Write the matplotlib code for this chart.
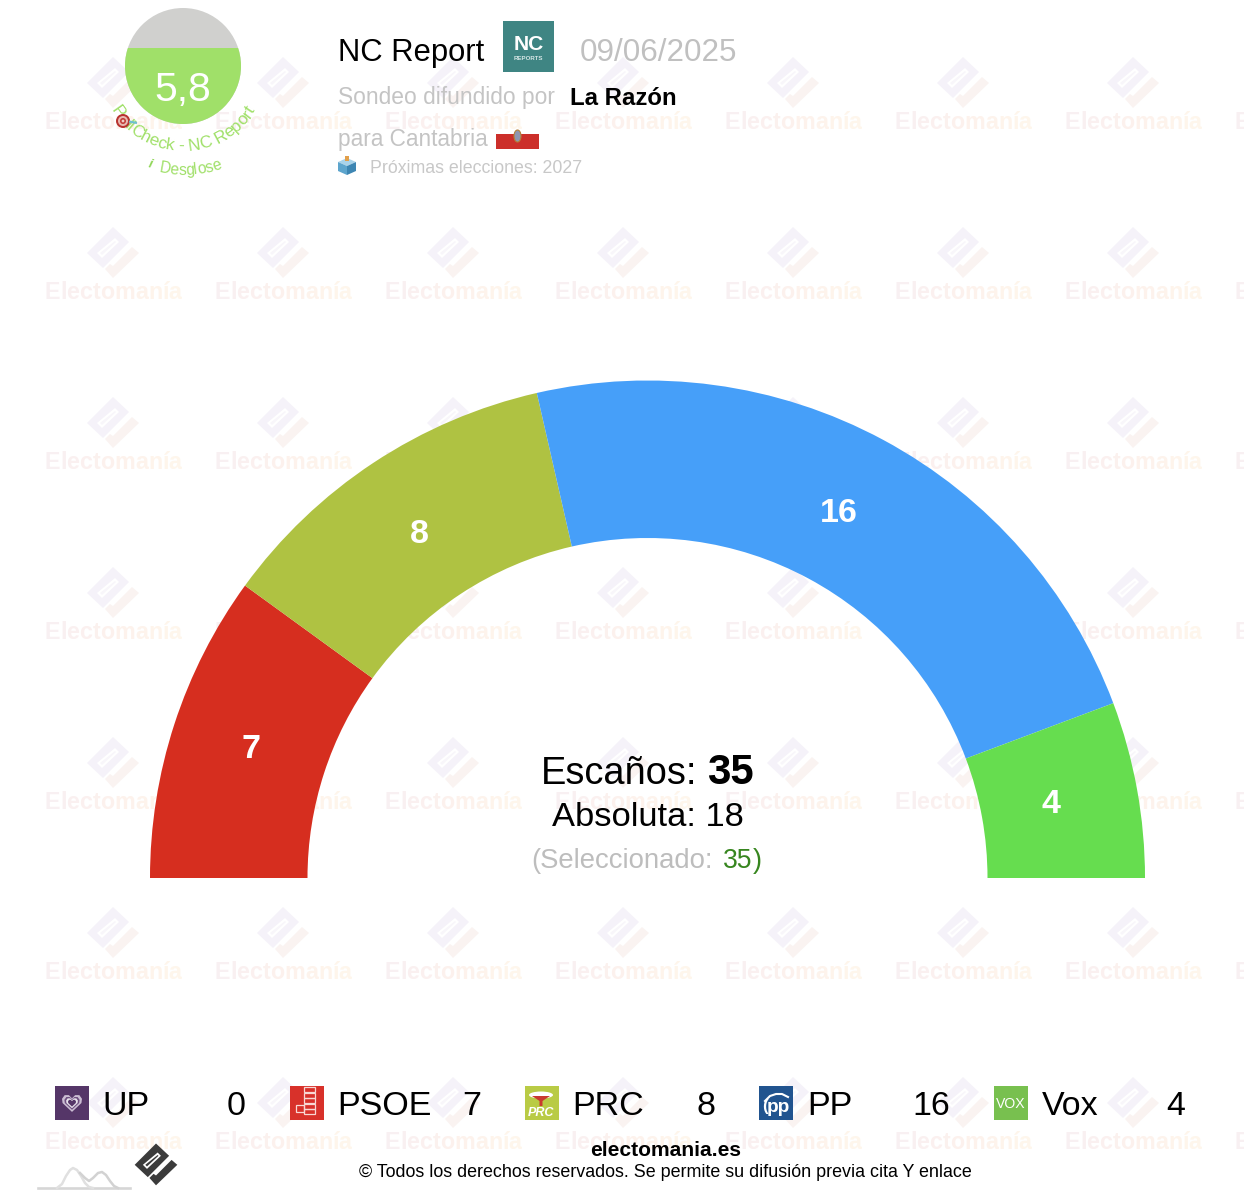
import numpy as np
import matplotlib
matplotlib.use("Agg")
import matplotlib.pyplot as plt
from matplotlib.patches import Wedge, Circle, Rectangle, Polygon, Ellipse
from matplotlib.textpath import TextPath
from matplotlib.font_manager import FontProperties

# data
parties = ["UP", "PSOE", "PRC", "PP", "Vox"]
seats = [0, 7, 8, 16, 4]
party_colors = ["#5a3a6e", "#d62e1f", "#afc242", "#469ff9", "#66dd4f"]
icon_colors = ["#553668", "#d8312a", "#b9cb45", "#21548f", "#78c04f"]
total_seats = 35
majority = 18
selected = 35
pollcheck_score = "5,8"
pollster = "NC Report"
poll_date = "09/06/2025"
media = "La Razón"
region = "para Cantabria"
next_vote = "Próximas elecciones: 2027"

# small nudges of the seat labels, in pixels
label_dx = [0, 1, 2, -7, -8]
label_dy = [0, 1, 5, 4, 1]

plt.rcParams["font.family"] = ["Liberation Sans", "DejaVu Sans"]

W, H = 1244, 1200
fig = plt.figure(figsize=(W / 100, H / 100), dpi=100)
ax = fig.add_axes([0, 0, 1, 1])
ax.set_xlim(0, W)
ax.set_ylim(0, H)
ax.axis("off")


def Y(y):
    return H - y


def fs(px):
    return px * 0.72


def put(x, y, s, px, color="black", weight="normal", ha="left", va="baseline", z=5, rot=0):
    return ax.text(x, Y(y), s, fontsize=fs(px), color=color, fontweight=weight, ha=ha, va=va, zorder=z,
                   rotation=rot, rotation_mode="anchor")


def poly(points, x0, y0, color, z=1, k=1.0):
    pts = [(x0 + p[0] * k, Y(y0 + p[1] * k)) for p in points]
    ax.add_patch(Polygon(pts, closed=True, facecolor=color, edgecolor="none", zorder=z))


def logo(x0, y0, body, slot, check, inner=None, z=1, k=1.0):
    poly([(0, -25), (16, -10), (-10, 16), (-26, 1)], x0, y0, body, z, k)
    poly([(-16, 1), (2, -14), (6, -10), (-11, 6)], x0, y0, slot, z, k)
    if inner:
        poly([(-13, 1), (2, -11), (3, -10), (-11, 3)], x0, y0, inner, z, k)
    poly([(-8, 17), (0, 26), (26, 1), (19, -5), (0, 14), (-3, 12)], x0, y0, check, z, k)


# watermark tiles, letters fade from pink to cream
wm_word = "Electomanía"
wm_colors = ["#f8f0f2", "#f9f0f1", "#faf0f0", "#fbf0ef", "#fbf1ee", "#fcf1ed",
             "#fdf2ec", "#fdf3ec", "#fef4eb", "#fef5eb", "#fef6ec"]
wm_font = FontProperties(family="Liberation Sans", weight="bold")
wm_px = 23.3
bar = TextPath((0, 0), "|", size=wm_px, prop=wm_font).get_extents().x1
wm_adv = [0.0]
for i in range(1, len(wm_word)):
    wm_adv.append(TextPath((0, 0), wm_word[:i] + "|", size=wm_px, prop=wm_font).get_extents().x1 - bar)

for cy in range(82, 1200, 170):
    for cx in range(113, 1320, 170):
        logo(cx, cy, "#f5f2f9", "#ffffff", "#faf3f1", "#f8f6fa")
        for i, ch in enumerate(wm_word):
            lx = cx - 68.5 + wm_adv[i]
            if lx >= W - 2:
                break
            ax.text(lx, Y(cy + 47), ch, fontsize=fs(wm_px), color=wm_colors[i], fontweight="bold",
                    ha="left", va="baseline", zorder=1)

# main hemicycle
cx0, cy0 = 647.5, 878
r_out, r_in = 497.5, 340
angle = 180.0
for i, (name, n, col) in enumerate(zip(parties, seats, party_colors)):
    if n == 0:
        continue
    span = 180.0 * n / total_seats
    ax.add_patch(Wedge((cx0, Y(cy0)), r_out, angle - span, angle, width=r_out - r_in, facecolor=col,
                       edgecolor="none", zorder=3))
    mid = np.radians(angle - span / 2)
    ax.text(cx0 + 418 * np.cos(mid) + label_dx[i], Y(cy0) + 418 * np.sin(mid) - label_dy[i], str(n), color="white",
            fontsize=fs(34), fontweight="bold", ha="center", va="center", zorder=4)
    angle -= span

# centre texts
put(541, 784, "Escaños:", 38)
put(707, 784, str(total_seats), 42, weight="bold")
put(648, 826, "Absoluta: " + str(majority), 34.5, ha="center")
put(531, 868, "(Seleccionado:", 27.5, color="#bdbdbd")
put(723, 868, str(selected), 26.5, color="#37861f")
put(753, 868, ")", 27.5, color="#37861f")

# header
put(338, 61, pollster, 31)
ax.add_patch(Rectangle((503, Y(72)), 51, 51, facecolor="#3f8583", edgecolor="none", zorder=4))
put(528.5, 50, "NC", 21, color="white", weight="bold", ha="center")
put(528.5, 60.5, "REPORTS", 6.2, color="#d5e6e5", weight="bold", ha="center")
put(580, 61, poll_date, 31.4, color="#c0c0c0")
put(338, 104, "Sondeo difundido por", 22.7, color="#c4c4c4")
put(570, 105, media, 24, weight="bold")
put(338, 146, region, 22.6, color="#c4c4c4")
ax.add_patch(Rectangle((496, Y(149)), 43, 15, facecolor="#cc2f2a", edgecolor="none", zorder=4))
ax.add_patch(Ellipse((517.5, Y(136)), 7, 12, facecolor="#8f96b0", edgecolor="#b5803a", linewidth=0.8, zorder=5))
put(370, 173, next_vote, 17.7, color="#c8c8c8")
# ballot box icon
poly([(-9, -4), (0, -8), (9, -4), (0, 0)], 347, 166, "#a9d3ea", 4)
poly([(-9, -4), (0, 0), (0, 9), (-9, 5)], 347, 166, "#5da5cd", 4)
poly([(9, -4), (0, 0), (0, 9), (9, 5)], 347, 166, "#3d86b3", 4)
poly([(-2, -5), (-2, -10), (2, -10), (2, -5)], 347, 166, "#e2a04b", 4)

# pollcheck gauge
gx, gy, gr = 183, 66, 58
gauge = Circle((gx, Y(gy)), gr, transform=ax.transData, facecolor="#d0d0ce", edgecolor="none", zorder=4)
ax.add_patch(gauge)
fill = Rectangle((gx - gr, Y(gy + gr)), 2 * gr, 76, facecolor="#a0e069", edgecolor="none", zorder=4)
ax.add_patch(fill)
fill.set_clip_path(gauge)
put(183, 101, pollcheck_score, 41, color="white", ha="center")


def curved(s, radius, centre_deg, px, color, font):
    # text set along the lower arc of the gauge, letter tops pointing to the middle
    widths = []
    for ch in s:
        if ch == " ":
            widths.append(px * 0.278)
        else:
            widths.append(TextPath((0, 0), "|" + ch + "|", size=px, prop=font).get_extents().width -
                          TextPath((0, 0), "||", size=px, prop=font).get_extents().width)
    pos = -sum(widths) / 2
    for ch, w in zip(s, widths):
        a = np.radians(centre_deg) + (pos + w / 2) / radius
        x = gx + radius * np.sin(a)
        y = gy + radius * np.cos(a)
        ax.text(x, Y(y), ch, fontsize=fs(px), color=color, ha="center", va="baseline", rotation=np.degrees(a),
                rotation_mode="anchor", zorder=5)
        pos += w


arc_font = FontProperties(family="Liberation Sans")
curved("PollCheck - NC Report", 85, 0, 17.2, "#a0e069", arc_font)
curved("Desglose", 109, 4, 15.5, "#a0e069", arc_font)
ax.text(150, Y(168), "i", fontsize=fs(13), color="#8fd656", fontweight="bold", style="italic", rotation=-15,
        ha="center", zorder=5)
# target icon on the arc
for r, c in zip([7, 5, 3, 1.4], ["#b8322f", "#e8b8b0", "#c23a35", "#f0d0c8"]):
    ax.add_patch(Circle((123, Y(121)), r, facecolor=c, edgecolor="none", zorder=6))
ax.plot([129, 137], [Y(121.5), Y(123)], color="#6fc0cf", lw=1.6, zorder=6, solid_capstyle="butt")

# legend row
for i, (name, n, col) in enumerate(zip(parties, seats, icon_colors)):
    x0 = 55 + 234.75 * i
    ax.add_patch(Rectangle((x0, Y(1120)), 34, 34, facecolor=col, edgecolor="none", zorder=4))
    put(x0 + 47.5, 1115, name, 34)
    put(x0 + 191, 1115, str(n), 34, ha="right")

# small marks inside the party squares
heart = [(0, 8.5), (-9, 0), (-9.5, -4), (-7, -7.5), (-3, -7.5), (0, -4.5), (3, -7.5), (7, -7.5), (9.5, -4), (9, 0)]
poly(heart, 72, 1103, "#cbbdd3", 5, 1.05)
poly(heart, 72, 1103, "#6e4f80", 5, 0.8)
poly(heart, 72, 1103, "#e8e2ec", 5, 0.62)
poly(heart, 72, 1103, "#553668", 5, 0.42)
for j in range(5):
    ax.add_patch(Rectangle((304, Y(1114 - j * 5.5)), 11, 5, facecolor="none", edgecolor="#f8d8d4", linewidth=0.9,
                           zorder=5))
ax.add_patch(Rectangle((296, Y(1112)), 8, 7, facecolor="none", edgecolor="#f8d8d4", linewidth=0.9, zorder=5))
ax.add_patch(Ellipse((541, Y(1095)), 24, 7, facecolor="white", edgecolor="none", zorder=5))
poly([(-9, 0), (9, 0), (1.5, 5), (1.5, 10), (-1.5, 10), (-1.5, 5)], 541, 1096, "#c93a2f", 5)
put(541, 1116, "PRC", 12.5, color="white", weight="bold", ha="center").set_style("italic")
put(778, 1112, "pp", 19, color="white", weight="bold", ha="center")
put(765, 1111, "(", 17, color="white", weight="bold", ha="center")
ax.plot([765, 770, 776, 782, 788], [Y(1101), Y(1096), Y(1094), Y(1094), Y(1097)], color="white", lw=1.5, zorder=5)
put(1011, 1108, "VOX", 14, color="white", ha="center")

# footer
put(665.5, 1156, "electomania.es", 21, weight="bold", ha="center")
put(665, 1177, "© Todos los derechos reservados. Se permite su difusión previa cita Y enlace", 17.9, ha="center")
logo(156, 1164, "#3b3b3b", "#ffffff", "#3b3b3b", "#3b3b3b", z=4, k=0.82)
ax.plot([38, 130], [Y(1188), Y(1188)], color="#d6d6d6", lw=1.9, zorder=4)
ax.plot([57, 62, 66, 70, 73, 77, 81, 85, 89, 93],
        [Y(1188), Y(1184), Y(1176), Y(1170), Y(1168), Y(1170), Y(1176), Y(1183), Y(1187), Y(1188)],
        color="#e0e0e0", lw=1.8, zorder=4)
ax.plot([80, 85, 89, 93, 98, 102, 106, 110, 114, 118],
        [Y(1173), Y(1178), Y(1181), Y(1178), Y(1173), Y(1172), Y(1175), Y(1181), Y(1186), Y(1188)],
        color="#d2d2d2", lw=1.8, zorder=4)

fig.savefig("out.png", dpi=100, facecolor="white")
